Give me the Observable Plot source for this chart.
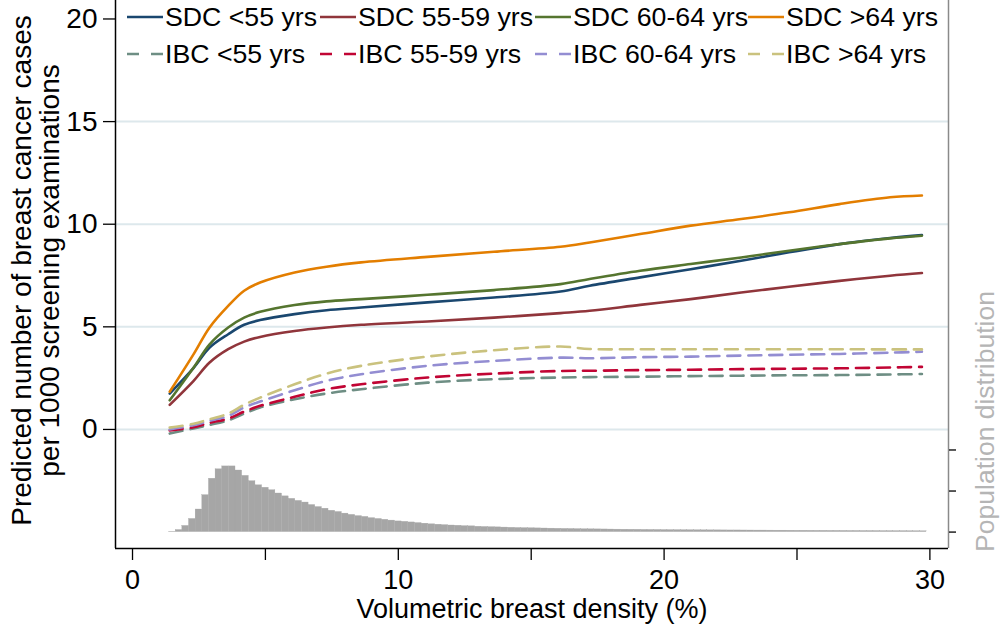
<!DOCTYPE html>
<html>
<head>
<meta charset="utf-8">
<script src="https://cdn.jsdelivr.net/npm/d3@7"></script>
<script src="https://cdn.jsdelivr.net/npm/@observablehq/plot@0.6"></script>
<style>
  body { margin: 0; background: #fff; }
  #wrap { position: relative; width: 1000px; height: 624px; font-family: "Liberation Sans", Arial, sans-serif; }
  #legend { position: absolute; left: 0; top: 0; }
</style>
</head>
<body>
<div id="wrap"><div id="chart"></div><svg id="legend" width="1000" height="75"></svg></div>
<script>
// ---- Data ----
const density = [1.4, 2.3, 2.9, 3.6, 4.2, 4.8, 6.1, 7.3, 8.6, 11.1, 13.6, 16.1, 17.2, 19.1, 21.0, 22.9, 24.7, 26.6, 28.5, 29.7];

const sdcUnder55 = [1.75, 3.0, 3.99, 4.64, 5.1, 5.33, 5.62, 5.81, 5.94, 6.19, 6.43, 6.72, 7.0, 7.41, 7.81, 8.22, 8.63, 9.03, 9.33, 9.47];
const sdc55to59  = [1.2, 2.37, 3.26, 3.91, 4.28, 4.51, 4.8, 4.97, 5.1, 5.26, 5.45, 5.67, 5.78, 6.07, 6.35, 6.67, 6.95, 7.24, 7.49, 7.62];
const sdc60to64  = [1.42, 3.02, 4.15, 4.97, 5.45, 5.73, 6.06, 6.24, 6.35, 6.56, 6.79, 7.08, 7.33, 7.73, 8.06, 8.38, 8.71, 9.03, 9.31, 9.44];
const sdcOver64  = [1.84, 3.67, 4.97, 6.02, 6.76, 7.16, 7.65, 7.93, 8.14, 8.41, 8.66, 8.9, 9.11, 9.52, 9.93, 10.25, 10.58, 10.98, 11.31, 11.4];

const ibcUnder55 = [-0.2, 0.05, 0.22, 0.44, 0.77, 1.07, 1.47, 1.75, 1.96, 2.28, 2.45, 2.53, 2.55, 2.57, 2.6, 2.62, 2.64, 2.65, 2.68, 2.7];
const ibc55to59  = [-0.05, 0.11, 0.32, 0.53, 0.87, 1.15, 1.59, 1.96, 2.2, 2.53, 2.72, 2.85, 2.86, 2.89, 2.91, 2.94, 2.96, 2.98, 3.02, 3.05];
const ibc60to64  = [0.0, 0.21, 0.42, 0.66, 1.07, 1.36, 1.91, 2.37, 2.69, 3.1, 3.34, 3.5, 3.47, 3.52, 3.55, 3.6, 3.64, 3.68, 3.74, 3.79];
const ibcOver64  = [0.09, 0.28, 0.5, 0.77, 1.2, 1.55, 2.2, 2.72, 3.1, 3.55, 3.86, 4.04, 3.92, 3.91, 3.91, 3.91, 3.91, 3.91, 3.9, 3.9];

const seriesNames  = ["SDC <55 yrs", "SDC 55-59 yrs", "SDC 60-64 yrs", "SDC >64 yrs",
                      "IBC <55 yrs", "IBC 55-59 yrs", "IBC 60-64 yrs", "IBC >64 yrs"];
const seriesValues = [sdcUnder55, sdc55to59, sdc60to64, sdcOver64, ibcUnder55, ibc55to59, ibc60to64, ibcOver64];
const seriesColors = ["#1a476f", "#90353b", "#55752f", "#e37e00", "#6e8e84", "#c10534", "#938dd2", "#cac27e"];
const seriesDashed = [false, false, false, false, true, true, true, true];

// Population distribution histogram (bin width 0.25, first bin centred at 1.5)
const histFirstCenter = 1.5;
const histBinWidth = 0.25;
const histHeights = [
  0.01, 0.05, 0.15, 0.32, 0.55, 0.9, 1.3, 1.53, 1.6, 1.6,
  1.5, 1.37, 1.24, 1.14, 1.08, 1.02, 0.94, 0.87, 0.81, 0.76,
  0.72, 0.66, 0.61, 0.57, 0.52, 0.49, 0.45, 0.42, 0.39, 0.37,
  0.34, 0.32, 0.30, 0.28, 0.26, 0.25, 0.235, 0.22, 0.205, 0.19,
  0.18, 0.17, 0.16, 0.155, 0.145, 0.14, 0.13, 0.125, 0.12, 0.115,
  0.11, 0.105, 0.1, 0.097, 0.094, 0.09, 0.087, 0.084, 0.081, 0.078,
  0.076, 0.073, 0.07, 0.068, 0.066, 0.064, 0.062, 0.06, 0.058, 0.057,
  0.056, 0.054, 0.053, 0.052, 0.05, 0.049, 0.048, 0.047, 0.046, 0.045,
  0.044, 0.043, 0.042, 0.041, 0.04, 0.04, 0.039, 0.038, 0.037, 0.037,
  0.036, 0.035, 0.035, 0.034, 0.033, 0.033, 0.032, 0.031, 0.031, 0.03,
  0.03, 0.029, 0.028, 0.028, 0.027, 0.027, 0.026, 0.025, 0.025, 0.024,
  0.024, 0.023, 0.022, 0.02
];
const rightAxisTicks = [0, 1, 2];   // secondary (population) axis, unlabeled

const xTicks = [0, 5, 10, 15, 20, 25, 30];
const xTickLabels = [0, 10, 20, 30];
const yTicks = [0, 5, 10, 15, 20];
const yGrid = [0, 5, 10, 15];
const xDomain = [-0.64, 30.7];
const yDomain = [-5.8, 20.9];
const histBase = -5;      // where the secondary axis' zero sits on the primary axis
const histScale = 2;      // primary units per secondary unit

const xTitle = "Volumetric breast density (%)";
const yTitle = "Predicted number of breast cancer cases\nper 1000 screening examinations";
const rightTitle = "Population distribution";

// ---- Build tables ----
const lineRows = [];
seriesValues.forEach((vals, s) => vals.forEach((v, i) => lineRows.push({series: s, x: density[i], y: v})));
const histRows = histHeights.map((h, i) => {
  const c = histFirstCenter + i * histBinWidth;
  return {x1: c - histBinWidth / 2, x2: c + histBinWidth / 2, y1: histBase, y2: histBase + histScale * h};
});

const font = "Liberation Sans, Arial, sans-serif";

const marks = [
  Plot.gridY(yGrid, {stroke: "#dde8ec", strokeOpacity: 1, strokeWidth: 2}),
  Plot.rect(histRows, {x1: "x1", x2: "x2", y1: "y1", y2: "y2", fill: "#a6a6a6", stroke: "#a6a6a6", strokeWidth: 0.3})
];
seriesValues.forEach((_, s) => {
  marks.push(Plot.line(lineRows.filter(d => d.series === s), {
    x: "x", y: "y", curve: "catmull-rom",
    stroke: seriesColors[s], strokeWidth: 2.6,
    strokeDasharray: seriesDashed[s] ? "13,8" : null
  }));
});
marks.push(
  Plot.ruleX([xDomain[0]], {stroke: "#000", strokeWidth: 1.5}),
  Plot.ruleX([xDomain[1]], {stroke: "#8a8a8a", strokeWidth: 1.5}),
  Plot.ruleY([yDomain[0]], {stroke: "#000", strokeWidth: 1.5}),
  Plot.axisY(yTicks, {anchor: "left", tickSize: 12, tickPadding: 6, fontSize: 28, label: null, strokeWidth: 1.3}),
  Plot.axisX(xTicks, {anchor: "bottom", tickSize: 12, tickPadding: 9, fontSize: 27, label: null,
                      tickFormat: d => xTickLabels.includes(d) ? String(d) : "", strokeWidth: 1.3}),
  Plot.axisY(rightAxisTicks.map(t => histBase + histScale * t), {anchor: "right", tickSize: 7, tickFormat: () => "", label: null, strokeWidth: 1.3}),
  Plot.text([xTitle], {frameAnchor: "bottom", dy: 69, fontSize: 27, fill: "#000", textAnchor: "middle"}),
  Plot.text([yTitle], {frameAnchor: "left", dx: -79, dy: -4, rotate: -90, fontSize: 28, lineHeight: 1.0, fill: "#000", textAnchor: "middle"}),
  Plot.text([rightTitle], {frameAnchor: "right", dx: 37, dy: 147, rotate: -90, fontSize: 26.5, fill: "#b5b5b5", textAnchor: "middle"})
);

const chart = Plot.plot({
  width: 1000, height: 624,
  marginLeft: 115, marginRight: 52, marginTop: 0, marginBottom: 76,
  x: {domain: xDomain},
  y: {domain: yDomain},
  style: {fontFamily: font, background: "#fff", color: "#000", overflow: "visible"},
  marks
});
document.getElementById("chart").appendChild(chart);

// ---- Legend (two rows, four columns) overlaid at the top of the plot ----
const legendCols = [127, 320, 535, 748];
const legendRows = [17, 54];
const lg = d3.select("#legend");
seriesNames.forEach((name, s) => {
  const col = legendCols[s % 4], row = legendRows[Math.floor(s / 4)];
  lg.append("line").attr("x1", col).attr("x2", col + 36).attr("y1", row).attr("y2", row)
    .attr("stroke", seriesColors[s]).attr("stroke-width", 2.6)
    .attr("stroke-dasharray", seriesDashed[s] ? "12,12" : null);
  lg.append("text").attr("x", col + 38).attr("y", row).attr("dy", "0.35em")
    .attr("font-family", font).attr("font-size", 26.7).attr("fill", "#000").text(name);
});
</script>
</body>
</html>
